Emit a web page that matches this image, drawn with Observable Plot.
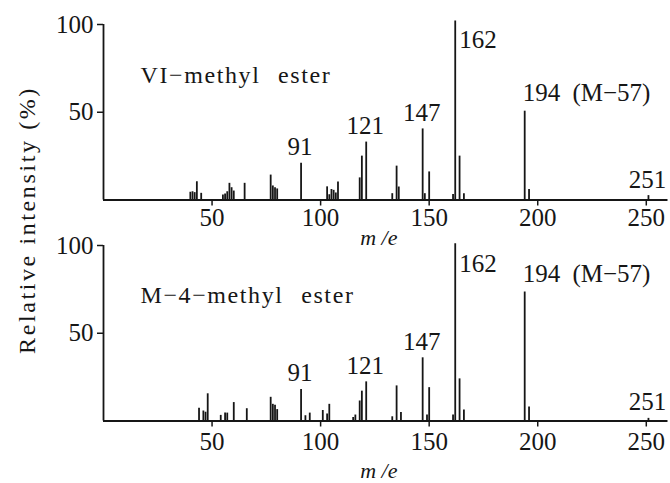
<!DOCTYPE html>
<html><head><meta charset="utf-8">
<script src="https://cdn.jsdelivr.net/npm/d3@7"></script>
<script src="https://cdn.jsdelivr.net/npm/@observablehq/plot@0.6"></script>
<style>
body{margin:0;background:#fff;}
#wrap{position:relative;width:670px;height:483px;overflow:hidden;background:#fff;}
#wrap svg{position:absolute;left:0;overflow:visible;}
#wrap text{font-family:"Liberation Serif", Tinos, "Times New Roman", cursive;}
</style></head><body><div id="wrap"></div>
<script>
const FONT = "\"Liberation Serif\", Tinos, \"Times New Roman\", cursive";
const INK = "#161616";

const xTicks = [50, 100, 150, 200, 250];
const yTicks = [50, 100];
const yLabel = "Relative intensity (%)";
const xLabel = "m /e";

// VI-methyl ester spectrum
const topTitle = "VI−methyl ester";
const topMz  = [40, 41, 42, 43, 45, 55, 56, 57, 58, 59, 60, 65, 77, 78, 79, 80, 91, 103, 104, 105, 106, 107, 108, 118, 119, 121, 133, 135, 136, 147, 148, 150, 161, 162, 164, 166, 194, 196, 251];
const topInt = [4.4, 4.7, 4.2, 10.4, 3.8, 2.8, 3.4, 4.7, 9.5, 7, 5.1, 9.5, 14.2, 8, 7, 6.3, 21, 7.5, 3, 6, 5.5, 4, 10.2, 12.6, 25, 33, 3.6, 19.3, 7.4, 40.5, 3.6, 16, 3.2, 102, 25, 3.6, 50.6, 6, 2.5];

// M-4-methyl ester spectrum
const botTitle = "M−4−methyl ester";
const botMz  = [44, 46, 47, 48, 54, 56, 57, 60, 66, 77, 78, 79, 80, 91, 93, 95, 101, 103, 104, 115, 116, 118, 119, 121, 133, 135, 137, 147, 149, 150, 161, 162, 164, 166, 194, 196, 251];
const botInt = [7.2, 5.7, 5, 15.5, 3.2, 4.5, 4.5, 10.5, 7, 13.5, 9.5, 9, 6.5, 18, 3, 4.5, 6, 4, 9.5, 2, 3.4, 11.4, 17, 22.3, 2.4, 20, 4.8, 36, 3.4, 19, 3.4, 101, 24, 6.3, 73.5, 8, 1.5];

// labelled peaks
const centerLabelMz = [91, 121, 147, 251];
const centerLabelText = ["91", "121", "147", "251"];
const baseLabelMz = 162, baseLabelText = "162";
const molLabelMz = 194, molLabelText = "194 (M−57)";

function panel(cfg) {
  const data = cfg.mz.map((m, k) => ({m, i: cfg.inten[k]}));
  const look = new Map(data.map(d => [d.m, d.i]));
  const cen = centerLabelMz.map((m, k) => ({m, i: look.get(m), t: centerLabelText[k]}));
  const base = [{m: baseLabelMz, i: look.get(baseLabelMz), t: baseLabelText}];
  const mol = [{m: molLabelMz, i: look.get(molLabelMz), t: molLabelText}];
  const svg = Plot.plot({
    width: 670, height: cfg.height,
    marginLeft: 103, marginRight: 2.5, marginTop: cfg.marginTop, marginBottom: cfg.marginBottom,
    style: {fontFamily: FONT, fontSize: "25px", color: INK, background: "transparent", overflow: "visible"},
    x: {domain: [0, 260]},
    y: {domain: [0, 100]},
    marks: [
      Plot.ruleY([0], {stroke: INK, strokeWidth: 1.8}),
      Plot.ruleX([0], {y1: 0, y2: 100, stroke: INK, strokeWidth: 1.8}),
      Plot.ruleX(data, {x: "m", y1: 0, y2: "i", stroke: INK, strokeWidth: 1.8}),
      Plot.axisX({ticks: xTicks, tickSize: 6, tickPadding: cfg.tickPad, label: null, strokeWidth: 1.5}),
      Plot.axisY({ticks: yTicks, tickSize: 6, tickPadding: 4, label: null, strokeWidth: 1.5}),
      Plot.text(cen, {x: "m", y: "i", text: "t", lineAnchor: "bottom", dy: -8, dx: -1, fill: INK}),
      Plot.text(base, {x: "m", y: "i", text: "t", lineAnchor: "bottom", textAnchor: "start", dx: 4, dy: cfg.baseDy, fill: INK}),
      Plot.text(mol, {x: "m", y: "i", text: "t", lineAnchor: "bottom", textAnchor: "start", dx: -2, dy: -10, fill: INK}),
      Plot.text([cfg.title], {frameAnchor: "top-left", text: d => d, lineAnchor: "bottom", textAnchor: "start", dx: 37, dy: cfg.titleDy, fontSize: 24, fill: INK}),
      Plot.text([xLabel], {frameAnchor: "bottom", text: d => d, lineAnchor: "bottom", dx: -7, dy: cfg.xLabDy, fontSize: 22, fontStyle: "italic", fill: INK})
    ]
  });
  d3.select(svg).selectAll("text")
    .filter(function() { return this.textContent === cfg.title; })
    .style("letter-spacing", "1.6px").style("word-spacing", "10px");
  d3.select(svg).selectAll("text")
    .filter(function() { return this.textContent === molLabelText; })
    .style("word-spacing", "6px");
  return svg;
}

const wrap = document.getElementById("wrap");
const top1 = panel({mz: topMz, inten: topInt, title: topTitle, height: 250, marginTop: 24, marginBottom: 50.5, tickPad: 2, baseDy: 27, titleDy: 58, xLabDy: 45});
top1.style.top = "0px";
wrap.appendChild(top1);
const bot1 = panel({mz: botMz, inten: botInt, title: botTitle, height: 253, marginTop: 15, marginBottom: 62.5, tickPad: 5, baseDy: 28, titleDy: 57, xLabDy: 57});
bot1.style.top = "230px";
wrap.appendChild(bot1);

const ov = d3.create("svg").attr("width", 670).attr("height", 483)
  .style("top", "0px").style("pointer-events", "none");
ov.append("text")
  .attr("transform", "translate(35,220) rotate(-90)")
  .attr("text-anchor", "middle")
  .attr("font-size", 24).style("letter-spacing", "2.6px")
  .attr("fill", INK)
  .text(yLabel);
wrap.appendChild(ov.node());
</script></body></html>
